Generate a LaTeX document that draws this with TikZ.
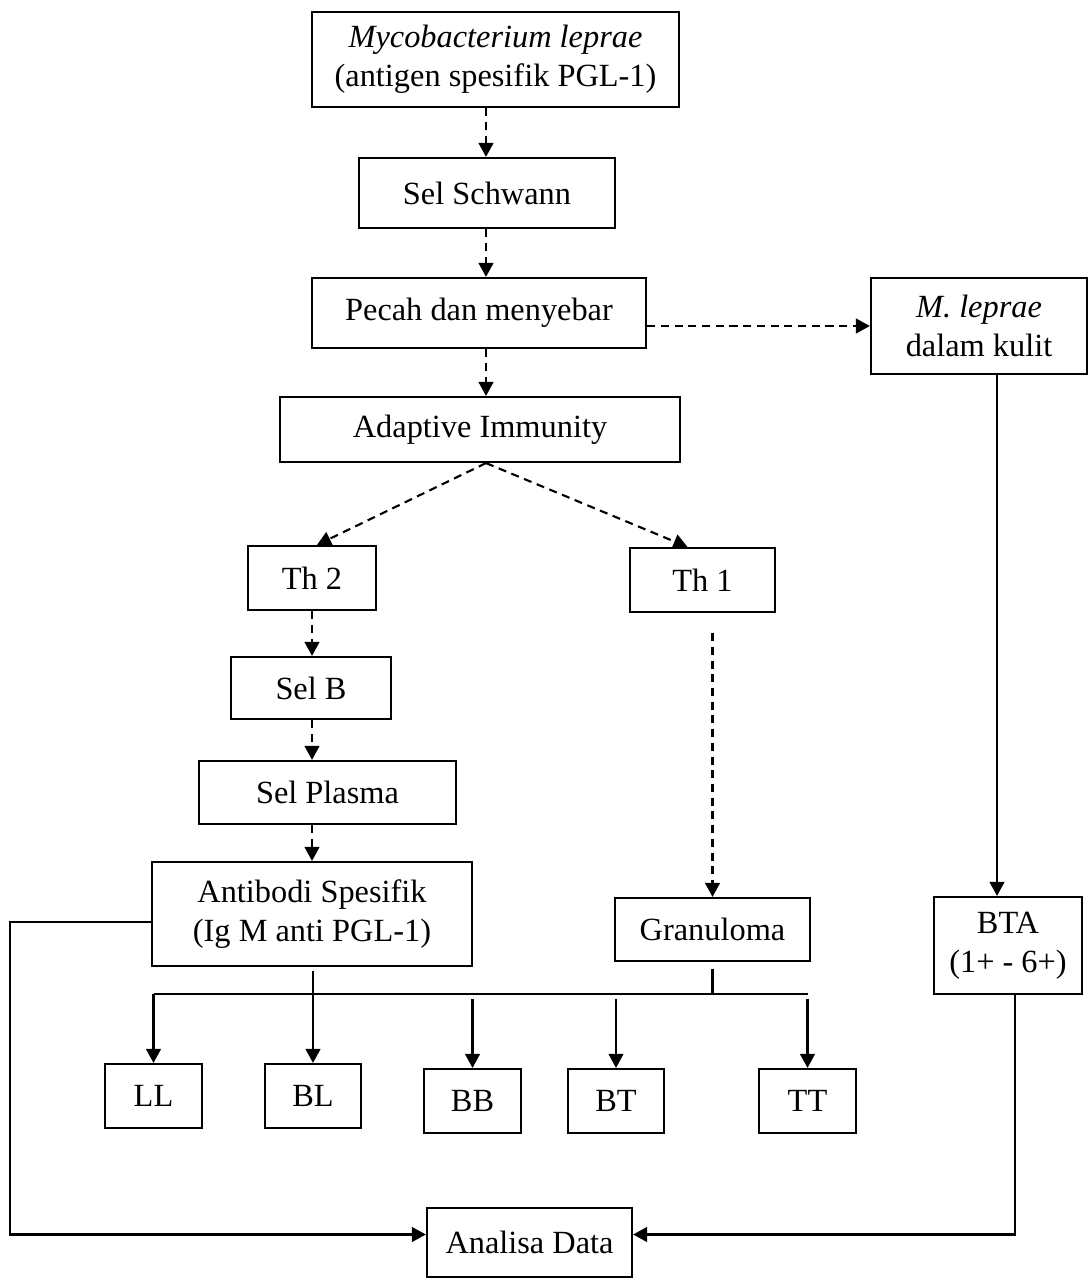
\documentclass[tikz,border=0pt]{standalone}
\usepackage{fontspec}
\setmainfont{Liberation Serif}
\usetikzlibrary{arrows.meta,calc}
\begin{document}
\begin{tikzpicture}[x=0.01cm,y=-0.01cm,
 box/.style={draw, line width=0.6pt, align=center, inner sep=0pt, font=\fontsize{9.2}{11.2}\selectfont},
 dasharrow/.style={line width=0.6pt, dash pattern=on 2.3pt off 1.6pt, -{Triangle[length=4pt,width=4.2pt]}},
 solidarrow/.style={line width=0.6pt, -{Triangle[length=4pt,width=4.2pt]}},
 link/.style={line width=0.6pt}]
\useasboundingbox[fill=white] (0,0) rectangle (1089,1279);

\node[box, minimum width=3.67cm, minimum height=0.95cm] (myco) at (495.5,59.5) {\textit{Mycobacterium leprae}\\(antigen spesifik PGL-1)};
\node[box, minimum width=2.56cm, minimum height=0.70cm] (schwann) at (487,193) {Sel Schwann};
\node[box, minimum width=3.34cm, minimum height=0.70cm] (pecah) at (479,313) {Pecah dan menyebar};
\node[box, minimum width=2.16cm, minimum height=0.96cm] (mlep) at (979,326) {\textit{M. leprae}\\dalam kulit};
\node[box, minimum width=4.00cm, minimum height=0.65cm] (adaptive) at (480,429.5) {Adaptive Immunity};
\node[box, minimum width=1.28cm, minimum height=0.64cm] (th2) at (312,578) {Th 2};
\node[box, minimum width=1.45cm, minimum height=0.64cm] (th1) at (702.5,580) {Th 1};
\node[box, minimum width=1.60cm, minimum height=0.62cm] (selb) at (311,688) {Sel B};
\node[box, minimum width=2.57cm, minimum height=0.63cm] (plasma) at (327.5,792.5) {Sel Plasma};
\node[box, minimum width=3.20cm, minimum height=1.04cm] (anti) at (312,914) {Antibodi Spesifik\\(Ig M anti PGL-1)};
\node[box, minimum width=1.95cm, minimum height=0.63cm] (gran) at (712.5,929.5) {Granuloma};
\node[box, minimum width=1.48cm, minimum height=0.97cm] (bta) at (1008,945.5) {BTA\\(1+ - 6+)};
\node[box, minimum width=0.97cm, minimum height=0.64cm] (LL) at (153.5,1096) {LL};
\node[box, minimum width=0.96cm, minimum height=0.64cm] (BL) at (313,1096) {BL};
\node[box, minimum width=0.97cm, minimum height=0.64cm] (BB) at (472.5,1101) {BB};
\node[box, minimum width=0.96cm, minimum height=0.64cm] (BT) at (616,1101) {BT};
\node[box, minimum width=0.97cm, minimum height=0.64cm] (TT) at (807.5,1101) {TT};
\node[box, minimum width=2.05cm, minimum height=0.69cm] (analisa) at (529.5,1242.5) {Analisa Data};

\coordinate (spine) at (486,0);
\coordinate (rline) at (997,0);
\coordinate (lline) at (10,0);
\coordinate (bus) at (0,994);
\coordinate (busb) at (0,999);
\coordinate (antil) at ([yshift=-0.08cm]anti.west);
\coordinate (anaw) at ([yshift=0.08cm]analisa.west);
\coordinate (anae) at ([yshift=0.08cm]analisa.east);
\coordinate (btas) at ([xshift=0.07cm]bta.south);
\coordinate (grans) at ([yshift=-0.07cm]gran.south);
\coordinate (th1s) at ([yshift=-0.20cm]th1.south);
\coordinate (antis) at ([yshift=-0.04cm]anti.south);

\draw[dasharrow] (myco.south -| spine) -- (schwann.north -| spine);
\draw[dasharrow] (schwann.south -| spine) -- (pecah.north -| spine);
\draw[dasharrow] (pecah.south -| spine) -- (adaptive.north -| spine);
\draw[dasharrow] (pecah.east |- mlep.west) -- (mlep.west);
\draw[dasharrow] (adaptive.south -| spine) -- ([xshift=0.05cm]th2.north);
\draw[dasharrow] (adaptive.south -| spine) -- ([xshift=-0.15cm]th1.north);
\draw[dasharrow] (th2.south) -- (th2.south |- selb.north);
\draw[dasharrow] (selb.south -| th2.south) -- (th2.south |- plasma.north);
\draw[dasharrow] (plasma.south -| th2.south) -- (th2.south |- anti.north);
\draw[dasharrow] (th1s -| gran.north) -- (gran.north);
\draw[solidarrow] (mlep.south -| rline) -- (bta.north -| rline);

\draw[link] (LL.north |- bus) -- (TT.north |- bus);
\draw[link] (grans) -- (grans |- bus);
\draw[solidarrow] (LL.north |- bus) -- (LL.north);
\draw[solidarrow] (antis -| BL.north) -- (BL.north);
\draw[solidarrow] (BB.north |- busb) -- (BB.north);
\draw[solidarrow] (BT.north |- busb) -- (BT.north);
\draw[solidarrow] (TT.north |- busb) -- (TT.north);

\draw[solidarrow] (antil) -- (antil -| lline) -- (lline |- anaw) -- (anaw);
\draw[solidarrow] (btas) -- (btas |- anae) -- (anae);
\end{tikzpicture}
\end{document}
